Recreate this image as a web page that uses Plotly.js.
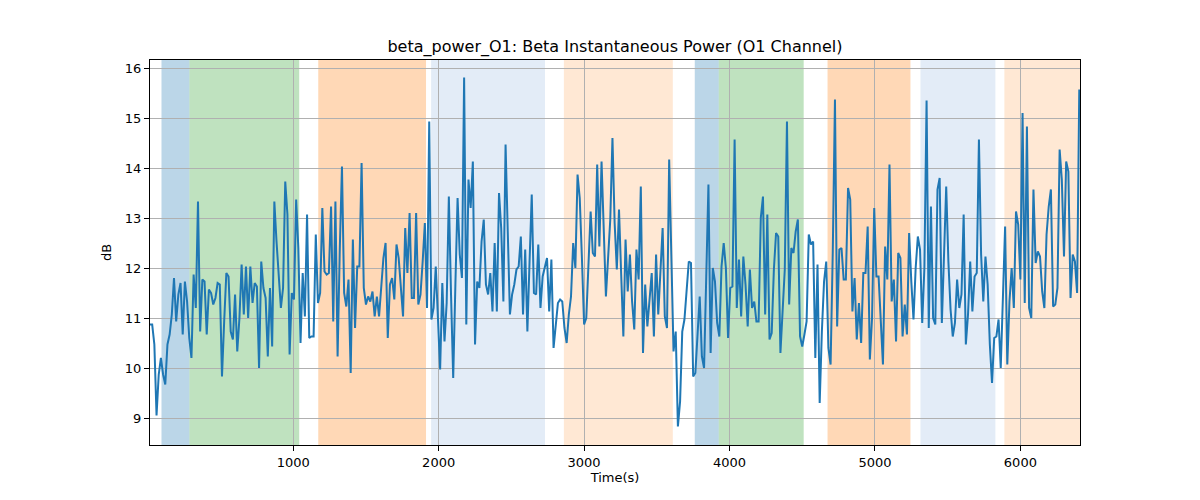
<!DOCTYPE html>
<html>
<head>
<meta charset="utf-8">
<script src="https://cdn.plot.ly/plotly-3.0.1.min.js"></script>
<style>
html, body {margin: 0; padding: 0; background: #fff;}
#chart {width: 1200px; height: 500px;}
</style>
</head>
<body>
<div id="chart"></div>
<script>
// Beta power of the O1 channel, one value every 15 s.
var t_start = 15;
var t_step = 15;
var beta_db = [
10.87, 10.87, 10.47, 9.05, 9.87, 10.2, 9.87, 9.67, 10.47, 10.67, 11.07, 11.8, 10.93, 11.47, 11.7, 10.67, 11.73, 11.33, 10.6, 10.2,
11.87, 11.2, 13.33, 10.73, 11.77, 11.73, 10.67, 11.57, 11.5, 11.27, 11.4, 11.7, 11.67, 9.83, 10.93, 11.9, 11.83, 10.73, 10.57, 11.47,
10.33, 11.0, 12.07, 11.07, 12.03, 11.0, 12.03, 11.3, 11.7, 11.63, 10.0, 12.13, 11.6, 11.4, 10.23, 11.6,
10.43, 13.33, 12.53, 11.73, 11.2, 11.6, 13.73, 13.07, 10.27, 11.5, 11.37, 13.37, 12.4, 10.5, 11.9, 11.03, 13.07, 10.6, 10.63, 10.63,
12.67, 11.3, 11.5, 13.2, 11.93, 11.87, 11.9, 13.23, 10.93, 13.33, 10.23, 12.37, 14.03, 11.5, 11.23, 11.77, 9.9, 12.57, 10.8, 12.03,
12.03, 14.1, 11.6, 11.27, 11.43, 11.33, 11.53, 11.03, 11.43, 11.03, 11.67, 12.2, 12.5, 10.6, 11.67,
11.8, 11.37, 12.47, 12.2, 11.6, 11.03, 12.8, 11.9, 13.1, 11.4, 11.4, 13.1, 11.27, 11.47, 12.13, 12.9, 11.2, 14.93, 10.97, 11.2,
12.03, 11.07, 9.97, 11.7, 10.53, 11.3, 13.43, 11.47, 9.8, 11.67, 13.4, 12.27, 11.8, 15.81, 10.87, 13.77, 13.2, 14.13, 10.47, 11.73,
11.6, 12.53, 12.97, 11.67, 11.47, 11.9, 11.13, 12.5, 11.13, 13.5, 12.8, 11.33, 14.47, 12.73, 11.07,
11.47, 11.67, 11.97, 12.03, 12.63, 11.07, 12.37, 10.73, 12.13, 13.47, 11.5, 11.47, 12.47, 11.2, 11.83, 12.0, 12.2, 11.13, 12.17, 10.4,
10.8, 11.3, 11.37, 11.33, 10.8, 10.5, 11.07, 11.43, 12.5, 12.0, 13.87, 13.4, 12.2, 10.87, 11.0, 12.13, 13.13, 12.3, 12.23, 14.07,
12.43, 14.13, 12.53, 11.43, 12.2, 12.97, 14.6, 12.9, 11.97, 13.17, 11.87, 10.63, 12.57, 11.53, 12.27,
11.33, 10.77, 12.37, 11.77, 13.63, 10.3, 11.67, 10.83, 11.47, 11.9, 10.63, 12.27, 11.07, 12.03, 12.8, 11.03, 10.8, 14.17, 12.0, 10.33,
10.73, 8.83, 9.33, 10.73, 10.97, 11.57, 12.13, 12.1, 9.83, 9.9, 10.8, 11.43, 10.23, 10.0, 11.83, 13.67, 10.3, 12.0, 11.73, 10.9,
10.63, 12.03, 12.5, 12.0, 10.6, 11.6, 11.63, 14.57, 11.2, 12.17, 11.03, 12.23, 11.67, 10.83, 11.97,
11.2, 11.33, 10.93, 10.93, 13.0, 13.43, 11.07, 13.07, 10.57, 10.7, 11.97, 12.7, 12.63, 10.3, 11.2, 11.97, 14.93, 11.27, 12.4, 12.3,
12.73, 12.97, 10.63, 10.43, 10.67, 10.93, 12.67, 12.47, 12.53, 10.2, 12.07, 9.3, 10.73, 11.73, 12.13, 10.4, 10.07, 12.33, 15.37, 10.83,
12.37, 12.4, 11.77, 11.77, 13.6, 13.37, 11.13, 11.8, 10.57, 11.3, 10.5, 11.9, 11.9, 12.83, 10.17,
11.0, 13.2, 11.83, 11.83, 10.93, 10.07, 12.43, 11.77, 14.07, 11.33, 11.77, 10.53, 12.3, 12.2, 10.63, 11.27, 10.67, 12.7, 11.73, 10.97,
12.0, 12.63, 12.37, 10.9, 12.0, 15.35, 10.8, 13.23, 11.0, 10.87, 13.57, 13.8, 10.9, 12.1, 13.63, 12.13, 11.17, 10.63, 10.9, 11.77,
11.2, 11.47, 13.07, 10.47, 11.07, 12.13, 11.13, 11.83, 11.9, 14.57, 12.27, 11.33, 12.23, 11.67, 10.47, 9.7, 10.6, 10.63, 10.97, 10.0,
11.47, 12.83, 10.07, 11.33, 12.0, 11.2, 13.13, 12.87, 11.77, 15.1, 11.3, 14.83, 11.2, 11.0, 13.57, 12.1, 12.33, 12.23, 11.53, 11.2,
12.67, 13.23, 13.57, 11.23, 11.27, 11.6, 14.37, 13.77, 12.23, 14.13, 13.93, 11.4, 12.27, 12.13, 11.5, 15.57
];

// Shaded epochs (start, end in seconds) and their fill colours.
var span_start = [94, 286, 1172, 1948, 2861, 3761, 3926, 4674, 5313, 5890];
var span_end = [286, 1041, 1913, 2731, 3610, 3926, 4510, 5244, 5828, 6410];
var span_color = [
'rgba(31,119,180,0.3)', 'rgba(44,160,44,0.3)', 'rgba(255,127,14,0.3)', 'rgba(60,120,200,0.14)', 'rgba(255,127,14,0.18)',
'rgba(31,119,180,0.3)', 'rgba(44,160,44,0.3)', 'rgba(255,127,14,0.3)', 'rgba(60,120,200,0.14)', 'rgba(255,127,14,0.18)'
];

var x_ticks = [1000, 2000, 3000, 4000, 5000, 6000];
var y_ticks = [9, 10, 11, 12, 13, 14, 15, 16];

var shapes = [];
for (var i = 0; i < span_start.length; ++i) {
shapes.push({
type: 'rect', xref: 'x', yref: 'paper',
x0: span_start[i], x1: span_end[i], y0: 0, y1: 1,
fillcolor: span_color[i], line: {width: 0}, layer: 'below'
});
}

var trace = {
y: beta_db,
x0: t_start,
dx: t_step,
type: 'scatter',
mode: 'lines',
line: {color: '#1f77b4', width: 2},
showlegend: false,
hoverinfo: 'x+y'
};

var axis_font = {family: 'DejaVu Sans', size: 13, color: '#000'};

var layout = {
width: 1200,
height: 500,
paper_bgcolor: '#fff',
plot_bgcolor: 'rgba(0,0,0,0)',
margin: {l: 150, r: 120, t: 60, b: 55},
showlegend: false,
title: {
text: 'beta_power_O1: Beta Instantaneous Power (O1 Channel)',
font: {family: 'DejaVu Sans', size: 16, color: '#000'},
x: 0.5, xref: 'paper', xanchor: 'center',
y: 1, yref: 'paper', yanchor: 'bottom', pad: {b: 8}
},
xaxis: {
title: {text: 'Time(s)', font: axis_font, standoff: 4},
range: [15, 6410],
tickvals: x_ticks,
tickfont: axis_font,
ticks: 'outside', ticklen: 5, tickcolor: '#000',
showgrid: true, gridcolor: '#b0b0b0', gridwidth: 1,
showline: true, linecolor: '#000', linewidth: 1, mirror: true,
zeroline: false
},
yaxis: {
title: {text: 'dB', font: axis_font, standoff: 10},
range: [8.46, 16.16],
tickvals: y_ticks,
tickfont: axis_font,
ticks: 'outside', ticklen: 5, tickcolor: '#000',
showgrid: true, gridcolor: '#b0b0b0', gridwidth: 1,
showline: true, linecolor: '#000', linewidth: 1, mirror: true,
zeroline: false
},
shapes: shapes
};

Plotly.newPlot('chart', [trace], layout, {displayModeBar: false, staticPlot: true});
</script>
</body>
</html>
